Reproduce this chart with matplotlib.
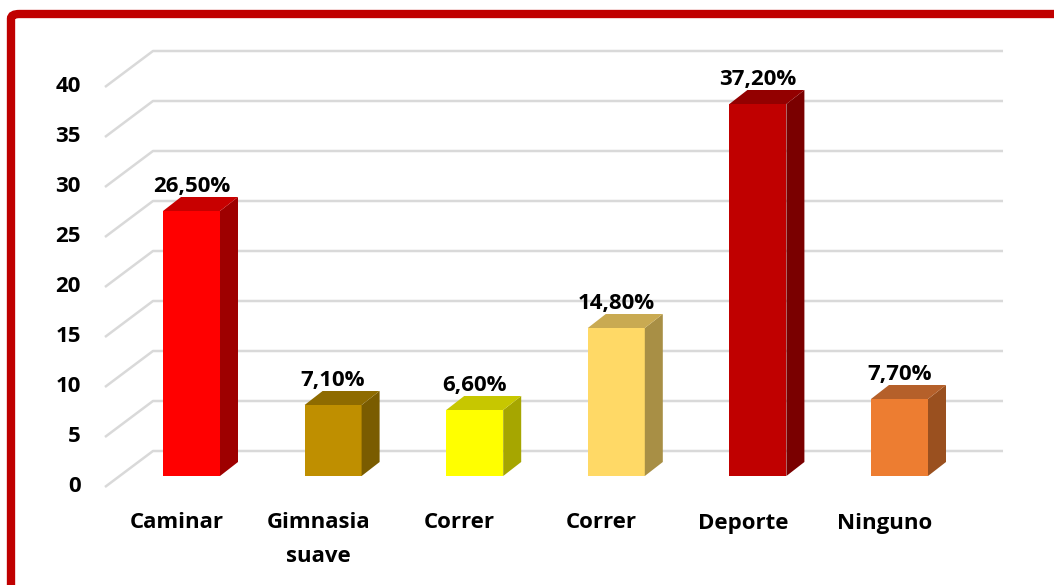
import matplotlib.pyplot as plt
from matplotlib.patches import Polygon, FancyBboxPatch

categories = ['Caminar', 'Gimnasia\nsuave', 'Correr', 'Correr', 'Deporte', 'Ninguno']
values = [26.5, 7.1, 6.6, 14.8, 37.2, 7.7]
value_labels = ['26,50%', '7,10%', '6,60%', '14,80%', '37,20%', '7,70%']
front_colors = ['#FF0000', '#BF8F00', '#FFFF00', '#FFD966', '#C00000', '#ED7D31']
side_colors = ['#9E0000', '#7A5C00', '#A6A600', '#A88F45', '#7A0000', '#9A501F']
top_colors = ['#C80000', '#8E6B00', '#C7C700', '#C9AA52', '#930000', '#B5602A']
yticks = [0, 5, 10, 15, 20, 25, 30, 35, 40]

plt.rcParams['font.family'] = ['Open Sans', 'DejaVu Sans']

fig = plt.figure(figsize=(10.54, 5.85), dpi=100)
ax = fig.add_axes([0, 0, 1, 1])
# one category = 141.6 px, one unit = 10 px
ax.set_xlim(-191.5 / 141.6, (1054 - 191.5) / 141.6)
ax.set_ylim((476 - 585) / 10, 476 / 10)
ax.axis('off')

# frame
fig.patches.append(FancyBboxPatch((11 / 1054, -0.1), 1.1, (585 - 14) / 585 + 0.1,
                                  boxstyle='round,pad=0,rounding_size=0.008',
                                  transform=fig.transFigure, fill=False,
                                  edgecolor='#C00000', linewidth=6))

bw = 57 / 141.6
dx = 18 / 141.6
dy = 1.4
wall_x0, wall_x1, front_x = -0.272, 5.731, -0.611
wall_dy, front_dy = 2.5, -1.1
fs = 16

for t in yticks:
    ax.plot([front_x, wall_x0, wall_x1], [t + front_dy, t + wall_dy, t + wall_dy],
            color='#D9D9D9', lw=1.8, zorder=1, solid_capstyle='butt')
    ax.text(front_x - 0.17, t + front_dy, str(t), ha='right', va='center',
            fontsize=fs, fontweight='bold')

for i, v in enumerate(values):
    x0 = i - bw / 2
    x1 = i + bw / 2
    ax.bar(i, v, width=bw, color=front_colors[i], zorder=3)
    ax.add_patch(Polygon([(x1, 0), (x1 + dx, dy), (x1 + dx, v + dy), (x1, v)],
                         closed=True, facecolor=side_colors[i], edgecolor='none', zorder=3))
    ax.add_patch(Polygon([(x0, v), (x0 + dx, v + dy), (x1 + dx, v + dy), (x1, v)],
                         closed=True, facecolor=top_colors[i], edgecolor='none', zorder=3))
    ax.text(i, v + 2.45, value_labels[i], ha='center', va='center',
            fontsize=fs, fontweight='bold', zorder=4)
    ax.text(i - 0.106, -3.65, categories[i], ha='center', va='top',
            fontsize=fs, fontweight='bold', linespacing=1.75)

fig.savefig('out.png', dpi=100)
